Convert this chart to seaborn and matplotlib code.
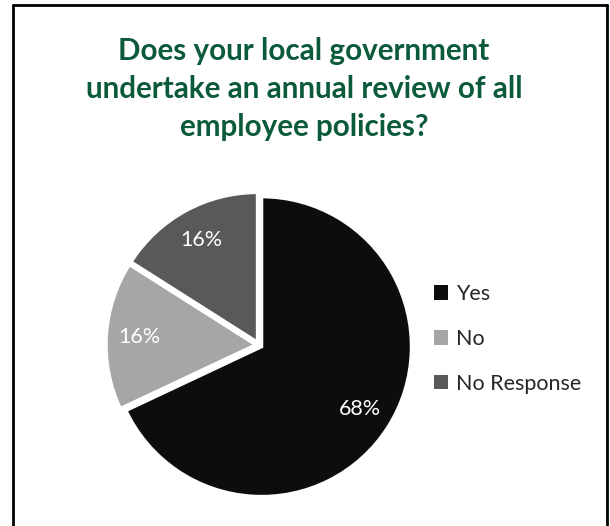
import matplotlib
matplotlib.use("Agg")
import matplotlib.pyplot as plt
from matplotlib.lines import Line2D
from matplotlib.patches import Patch
import seaborn as sns

sns.set_theme(style="white")
plt.rcParams["font.family"] = ["Lato", "DejaVu Sans"]

# Survey responses
categories = ["Yes", "No", "No Response"]
shares = [68, 16, 16]
colors = ["#0d0d0d", "#a6a6a6", "#595959"]
title = "Does your local government\nundertake an annual review of all\nemployee policies?"

W, H = 610, 526
fig = plt.figure(figsize=(W / 100, H / 100), dpi=100)
fig.patch.set_facecolor("white")

# Pie axes: centre ~(259, 345) px, radius ~150 px
cx, cy, r = 259, 345, 150
half = r * 1.05
ax = fig.add_axes([(cx - half) / W, (H - cy - half) / H, 2 * half / W, 2 * half / H])
wedges, texts, autotexts = ax.pie(
    shares,
    colors=colors,
    startangle=90,
    counterclock=False,
    explode=[0.02, 0.02, 0.02],
    autopct="%d%%",
    pctdistance=0.78,
    wedgeprops=dict(edgecolor="white", linewidth=2.5),
    textprops=dict(color="white", fontsize=15.5),
)
ax.set_xlim(-1.05, 1.05)
ax.set_ylim(-1.05, 1.05)
ax.set_aspect("equal")
ax.axis("off")

fig.text(304 / W, 1 - 89 / H, title, ha="center", va="center",
         fontsize=21.3, fontweight="bold", color="#0b5a3a", linespacing=1.45)

handles = [Patch(facecolor=c, edgecolor="none") for c in colors]
fig.legend(handles, categories, loc="center left",
           bbox_to_anchor=(415 / W, 1 - 339 / H), frameon=False,
           fontsize=15.5, handlelength=0.65, handleheight=0.65,
           handletextpad=0.35, labelspacing=1.15)

# Frame on three sides
lw = 2
fig.add_artist(Line2D([13 / W, 13 / W], [0, 1 - 5 / H], transform=fig.transFigure, color="black", lw=lw))
fig.add_artist(Line2D([13 / W, 607 / W], [1 - 5 / H, 1 - 5 / H], transform=fig.transFigure, color="black", lw=lw))
fig.add_artist(Line2D([607 / W, 607 / W], [0, 1 - 5 / H], transform=fig.transFigure, color="black", lw=lw))

fig.savefig("out.png", dpi=100, facecolor="white")
